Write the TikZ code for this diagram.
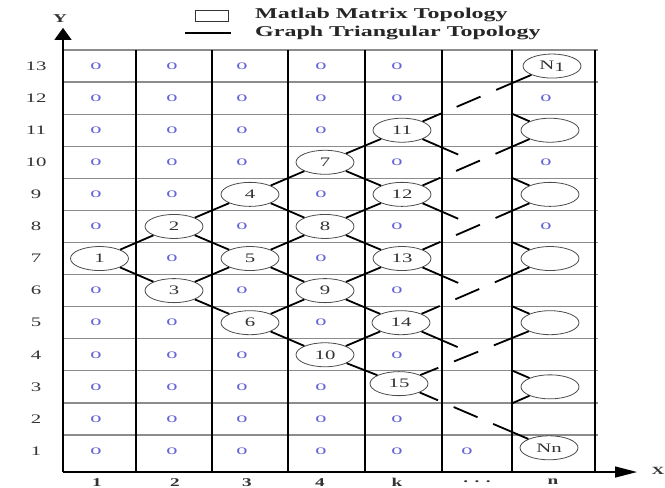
\documentclass[tikz,border=0pt]{standalone}
\usepackage{fontspec}
\setmainfont{Liberation Serif}[FakeStretch=1.6]
\usepackage{tikz}
\usetikzlibrary{shapes.geometric, arrows.meta, positioning, calc}
\definecolor{cellblue}{RGB}{100,100,215}

\begin{document}
\begin{tikzpicture}[
  x=1pt, y=32.08pt,
  vtx/.style={ellipse, draw=black!70, fill=white, line width=0.8pt,
              minimum width=58pt, minimum height=24pt, inner sep=0pt,
              font=\fontsize{13}{13}\selectfont, text=black!80},
  cell/.style={font=\fontsize{14}{14}\selectfont, text=cellblue, inner sep=0pt},
  lab/.style={font=\fontsize{12}{12}\selectfont\bfseries, text=black!80,
              inner sep=0pt},
  legtext/.style={anchor=west, inner sep=0pt, text=black!85,
                  font=\fontsize{15}{15}\selectfont\bfseries},
  edge/.style={line width=1.8pt, black},
  far/.style={edge, dash pattern=on 26pt off 17pt, dash phase=26pt},
  vline/.style={line width=1.3pt, black},
  hline/.style={line width=1.3pt, black!45}
]
  \useasboundingbox (0,-0.653) rectangle (665,14.559);

  % grid
  \foreach \i in {1,...,13}
    \draw[hline] (63,\i) -- (598,\i);
  \foreach \x in {136,212,288,365,442,512,595}
    \draw[vline] (\x,-0.155) -- (\x,13);

  % axes
  \coordinate (O)    at (63,-0.155);
  \coordinate (ytip) at (63,13.69);
  \coordinate (xtip) at (637,-0.155);
  \draw[vline, -{Triangle[length=12pt,width=17pt]}] (O) -- (ytip);
  \draw[vline, -{Triangle[length=22pt,width=11pt]}] (O) -- (xtip);
  \node[lab, above=5pt of ytip, xshift=-3pt] (ylab) {Y};
  \node[lab, anchor=east, font=\fontsize{11}{11}\selectfont\bfseries]
       (xlab) at (664.5,-0.13) {X};

  \foreach \r in {1,...,13}
    \node[lab, font=\fontsize{13}{13}\selectfont] (row\r) at (36,\r-0.5) {\r};
  \foreach \x/\t [count=\c] in {97/1, 175/2, 247/3, 320/4, 397/k, 477/{. . .}, 553/n}
    \node[lab] (col\c) at (\x,-0.47) {\t};

  % legend
  \node[draw=black!80, line width=0.9pt, minimum width=33pt, minimum height=11pt,
        inner sep=0pt] (legbox) at (211.5,14.06) {};
  \coordinate (legL) at (185,13.53);
  \coordinate (legR) at (231,13.53);
  \draw[edge] (legL) -- (legR);
  \node[legtext] (legmat)   at (255,14.09) {Matlab Matrix Topology};
  \node[legtext] (leggraph) at (255,13.53) {Graph Triangular Topology};

  % matrix entries
  \foreach \r/\cs in {13/{1,2,3,4,5}, 12/{1,2,3,4,5,7}, 11/{1,2,3,4},
                      10/{1,2,3,5,7}, 9/{1,2,4}, 8/{1,3,5,7}, 7/{2,4},
                      6/{1,3,5}, 5/{1,2,4}, 4/{1,2,3,5}, 3/{1,2,3,4},
                      2/{1,2,3,4,5}, 1/{1,2,3,4,5,6}}
    \foreach \c in \cs {
      \pgfmathsetmacro\cx{{96,172,242,321,397,467,546}[\c-1]}
      \node[cell] (o\r-\c) at (\cx,\r-0.5) {o};
    }

  % triangular graph
  \node[vtx] (v1)  at (99.5,6.5) {1};
  \node[vtx] (v2)  at (174,7.5)  {2};
  \node[vtx] (v3)  at (174,5.5)  {3};
  \node[vtx] (v4)  at (250,8.5)  {4};
  \node[vtx] (v5)  at (250,6.5)  {5};
  \node[vtx] (v6)  at (250,4.5)  {6};
  \node[vtx] (v7)  at (325,9.5)  {7};
  \node[vtx] (v8)  at (325,7.5)  {8};
  \node[vtx] (v9)  at (325,5.5)  {9};
  \node[vtx] (v10) at (325,3.5)  {10};
  \node[vtx] (v11) at (402,10.5) {11};
  \node[vtx] (v12) at (402,8.5)  {12};
  \node[vtx] (v13) at (402,6.5)  {13};
  \node[vtx] (v14) at (401,4.5)  {14};
  \node[vtx] (v15) at (399,2.6)  {15};

  \node[vtx] (n13) at (552,12.5) {N\raisebox{-1.5pt}{1}};
  \node[vtx] (n11) at (550,10.5) {};
  \node[vtx] (n9)  at (550,8.5)  {};
  \node[vtx] (n7)  at (550,6.5)  {};
  \node[vtx] (n5)  at (550,4.5)  {};
  \node[vtx] (n3)  at (550,2.5)  {};
  \node[vtx] (n1)  at (549,0.6)  {Nn};

  \foreach \a/\b in {1/2,1/3,2/4,2/5,3/5,3/6,4/7,4/8,5/8,5/9,6/9,6/10,
                     7/11,7/12,8/12,8/13,9/13,9/14,10/14,10/15}
    \draw[edge] (v\a) -- (v\b);

  % links across the hidden columns
  \foreach \a/\b in {11/13,12/11,13/9,14/7,15/5,15/1} {
    \draw[edge] (v\a) -- ($(v\a)!.26!(n\b)$);
    \draw[far] ($(v\a)!.26!(n\b)$) -- ($(v\a)!.74!(n\b)$);
    \draw[edge] ($(v\a)!.74!(n\b)$) -- (n\b);
  }
  \foreach \a/\b in {11/9,12/7,13/5,14/3} {
    \draw[edge] (v\a) -- ($(v\a)!.38!(n\b)$);
    \draw[edge] ($(v\a)!.74!(n\b)$) -- (n\b);
  }
  \coordinate (p13) at (402,12.5);
  \coordinate (p1)  at (402,0.5);
  \draw[edge] ($(p13)!.74!(n11)$) -- (n11);
  \draw[edge] ($(p1)!.74!(n3)$) -- (n3);
\end{tikzpicture}
\end{document}
